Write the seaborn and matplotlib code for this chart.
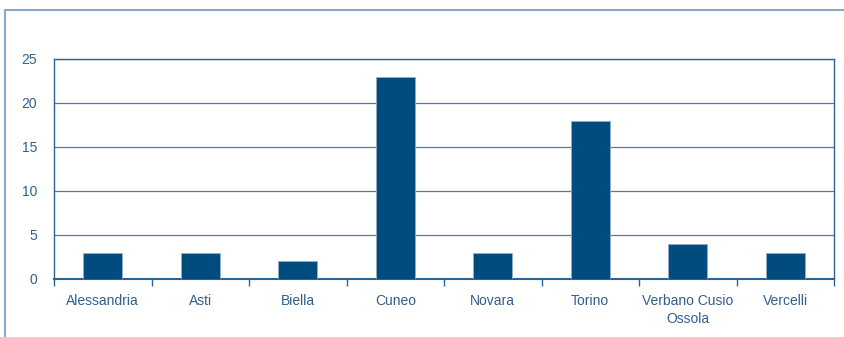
import matplotlib
matplotlib.use("Agg")
import matplotlib.pyplot as plt
import seaborn as sns
import pandas as pd
from matplotlib.lines import Line2D

categories = ["Alessandria", "Asti", "Biella", "Cuneo", "Novara", "Torino", "Verbano Cusio\nOssola", "Vercelli"]
values = [3, 3, 2, 23, 3, 18, 4, 3]
yticks = [0, 5, 10, 15, 20, 25]

sns.set_theme(style="white")
plt.rcParams['font.family'] = ['Liberation Sans', 'DejaVu Sans']

text_color = "#2f5f8f"
line_color = "#2a6496"
bar_color = "#004c7e"

df = pd.DataFrame({"cat": categories, "val": values})
fig = plt.figure(figsize=(8.44, 3.37), dpi=100)
ax = fig.add_axes([54/844, 1-279/337, (834-54)/844, (279-59)/337])
sns.barplot(data=df, x="cat", y="val", ax=ax, color=bar_color, saturation=1,
            width=0.4, edgecolor="#8fb0cc", linewidth=0.6, zorder=3)
ax.set_ylim(0, 25)
ax.set_yticks(yticks)
ax.set_xlim(-0.5, len(categories)-0.5)
ax.set_xlabel("")
ax.set_ylabel("")
ax.yaxis.grid(True, color="#4d7eab", linewidth=0.9, zorder=0)
ax.set_axisbelow(True)
for s in ax.spines.values():
    s.set_color(line_color)
    s.set_linewidth(1.0)
ax.spines['bottom'].set_linewidth(1.5)
ax.set_xticks([i + 0.5 for i in range(-1, len(categories))], minor=True)
ax.tick_params(axis='x', which='major', length=0, pad=11, labelsize=10, labelcolor=text_color)
ax.tick_params(axis='x', which='minor', length=5, width=1, color=line_color, bottom=True, direction='out')
ax.tick_params(axis='y', length=0, pad=12, labelsize=10, labelcolor=text_color)
for lbl in ax.get_xticklabels():
    lbl.set_linespacing(1.35)

frame_color = "#8aa8c4"
fig.add_artist(Line2D([5/844, 1], [1-10/337, 1-10/337], color=frame_color, linewidth=1.5, transform=fig.transFigure))
fig.add_artist(Line2D([5/844, 5/844], [0, 1-10/337], color=frame_color, linewidth=1.5, transform=fig.transFigure))

fig.savefig("out.png", dpi=100)
